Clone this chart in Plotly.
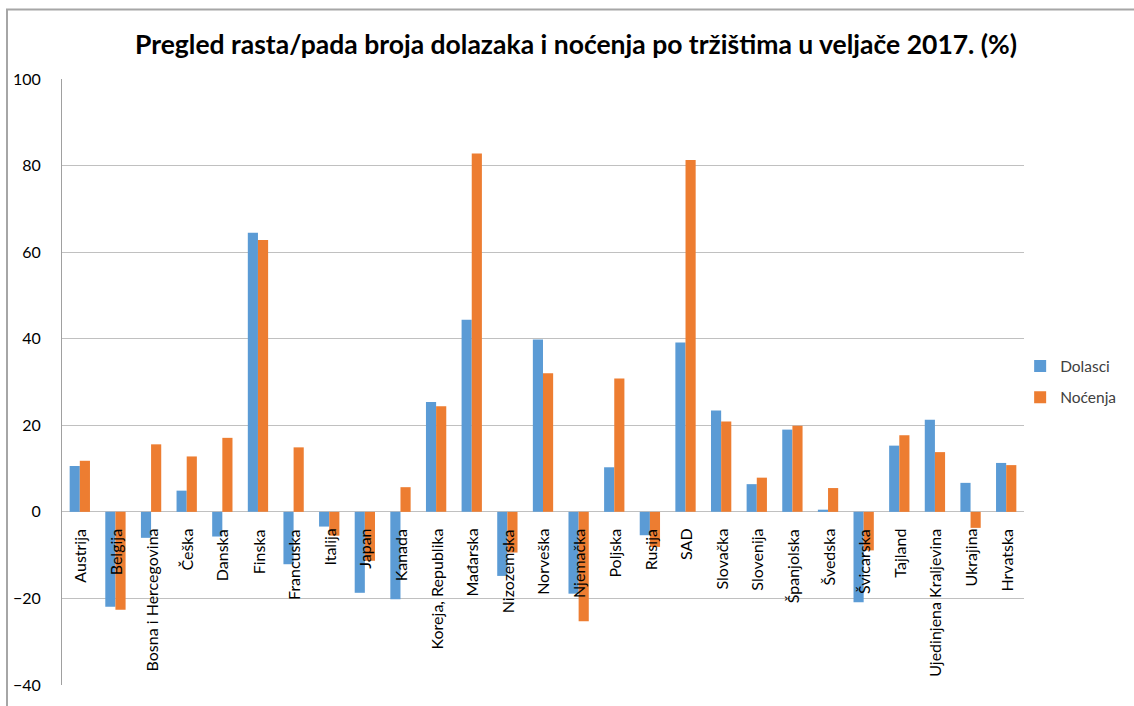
import plotly.graph_objects as go

trzista = ['Austrija', 'Belgija', 'Bosna i Hercegovina', 'Češka', 'Danska', 'Finska', 'Francuska',
           'Italija', 'Japan', 'Kanada', 'Koreja, Republika', 'Mađarska', 'Nizozemska', 'Norveška',
           'Njemačka', 'Poljska', 'Rusija', 'SAD', 'Slovačka', 'Slovenija', 'Španjolska', 'Švedska',
           'Švicarska', 'Tajland', 'Ujedinjena Kraljevina', 'Ukrajina', 'Hrvatska']
dolasci = [10.6, -21.9, -6.0, 4.9, -5.7, 64.5, -12.1, -3.4, -18.7, -20.2, 25.4, 44.4, -14.8, 39.8,
           -18.9, 10.3, -5.4, 39.1, 23.4, 6.4, 19.0, 0.5, -20.9, 15.3, 21.3, 6.7, 11.3]
nocenja = [11.8, -22.6, 15.6, 12.8, 17.1, 62.8, 14.9, -5.5, -11.3, 5.7, 24.4, 82.8, -9.4, 32.0,
           -25.3, 30.8, -8.1, 81.3, 20.9, 7.9, 19.9, 5.5, -8.9, 17.7, 13.8, -3.7, 10.8]

font = 'Lato'

fig = go.Figure()
fig.add_trace(go.Bar(x=trzista, y=dolasci, name='Dolasci', marker_color='#5B9BD5', marker_line_width=0,
                     legendgroup='d'))
fig.add_trace(go.Bar(x=trzista, y=nocenja, name='Noćenja', marker_color='#ED7D31', marker_line_width=0,
                     legendgroup='n'))

# category labels sit just under the zero line, like in Excel
for t in trzista:
    fig.add_annotation(x=t, y=0, xref='x', yref='y', text=t, textangle=-90, showarrow=False,
                       xanchor='center', yanchor='top', yshift=-15,
                       font=dict(family=font, size=16, color='#000000'))

# outer chart frame (only top and left edges fall inside the picture)
fig.add_shape(type='rect', xref='paper', yref='paper',
              x0=-55 / 962, x1=1.3, y0=-0.2, y1=1 + 70 / 610,
              line=dict(color='#A6A6A6', width=2), layer='above')

fig.update_layout(
    width=1134, height=706,
    margin=dict(l=62, r=110, t=79, b=17),
    paper_bgcolor='white', plot_bgcolor='white',
    barmode='group', bargap=0.43, bargroupgap=0,
    title=dict(text='<b>Pregled rasta/pada broja dolazaka i noćenja po tržištima u veljače 2017. (%)</b>',
               x=0.508, xanchor='center', y=0.936, yanchor='middle',
               font=dict(family=font, size=26.5, color='#000000')),
    font=dict(family=font, size=16, color='#000000'),
    legend=dict(x=0.996, xanchor='left', y=0.5, yanchor='middle', tracegroupgap=8,
                font=dict(family=font, size=15.5, color='#404040')),
    showlegend=True,
)
fig.update_xaxes(showticklabels=False, showgrid=False, zeroline=False, showline=False, ticks='')
fig.update_yaxes(range=[-40, 100], dtick=20, showgrid=True, gridcolor='#C0C0C0', gridwidth=1,
                 zeroline=True, zerolinecolor='#C0C0C0', zerolinewidth=1,
                 showline=True, linecolor='#A0A0A0', linewidth=1,
                 ticks='', ticklabelstandoff=17,
                 tickfont=dict(family=font, size=16, color='#000000'))

fig.write_html('out.html', config={'displayModeBar': False},
               post_script="document.body.style.margin='0';document.body.style.overflow='hidden';")
